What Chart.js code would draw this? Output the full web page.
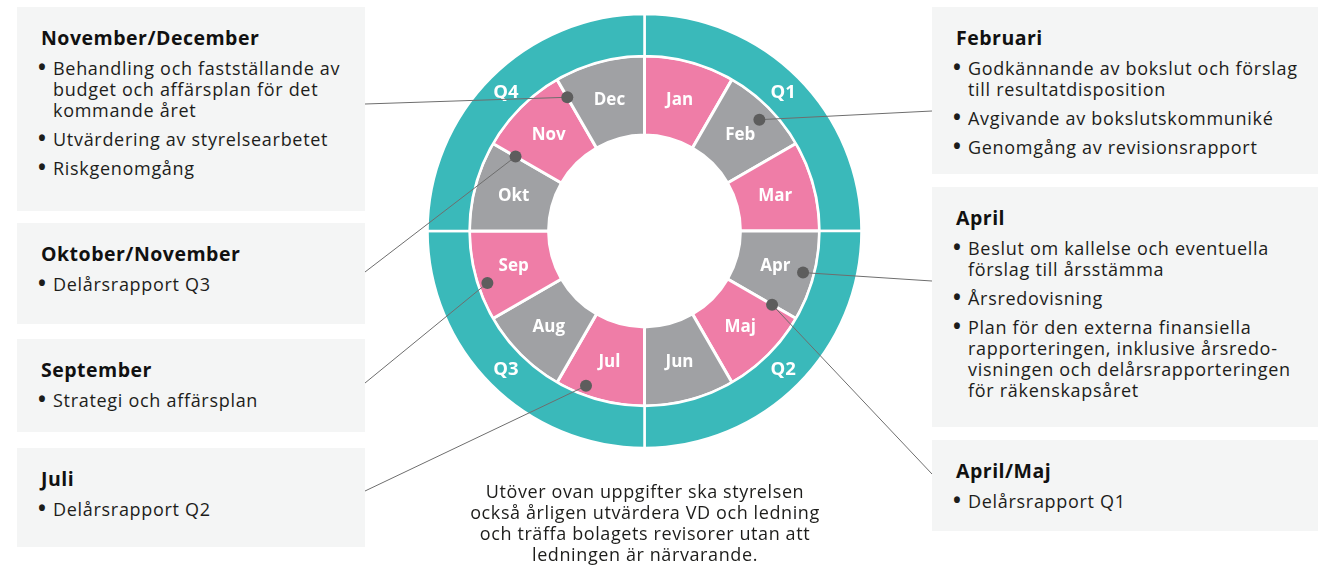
<!DOCTYPE html>
<html>
<head>
<meta charset="utf-8">
<script src="https://cdn.jsdelivr.net/npm/chart.js@4.4.1/dist/chart.umd.min.js"></script>
<style>
  html, body { margin: 0; padding: 0; background: #ffffff; }
  body { width: 1336px; height: 566px; position: relative; overflow: hidden; font-family: "Open Sans", "Noto Sans", sans-serif; color: #1d1d1b; }
  #c { position: absolute; left: 0; top: 0; }
  .box { position: absolute; background: #f4f5f5; box-sizing: border-box; padding: 19px 0 0 24px; z-index: 2; }
  .box h3 { margin: 0 0 8px 0; font-size: 19.5px; letter-spacing: 0.5px; line-height: 24px; font-weight: 700; color: #111; white-space: nowrap; }
  .box ul { list-style: none; margin: 0; padding: 0; }
  .box li { position: relative; padding-left: 12px; font-size: 18px; letter-spacing: 0.7px; line-height: 21px; margin-bottom: 8px; white-space: nowrap; }
  .box li .b { position: absolute; left: -3px; top: -1px; font-size: 21px; font-weight: 700; letter-spacing: 0; }
  #note { position: absolute; left: 395px; width: 500px; top: 481px; text-align: center; font-size: 18px; letter-spacing: 0.6px; line-height: 21px; white-space: nowrap; }
</style>
</head>
<body>
<canvas id="c" width="1336" height="566"></canvas>

<div class="box" style="left:17px;top:7px;width:348px;height:204px;">
  <h3>November/December</h3>
  <ul>
    <li><span class="b">•</span>Behandling och fastställande av<br>budget och affärsplan för det<br>kommande året</li>
    <li><span class="b">•</span>Utvärdering av styrelsearbetet</li>
    <li><span class="b">•</span>Riskgenomgång</li>
  </ul>
</div>
<div class="box" style="left:17px;top:223px;width:348px;height:101px;">
  <h3>Oktober/November</h3>
  <ul><li><span class="b">•</span>Delårsrapport Q3</li></ul>
</div>
<div class="box" style="left:17px;top:339px;width:348px;height:93px;">
  <h3>September</h3>
  <ul><li><span class="b">•</span>Strategi och affärsplan</li></ul>
</div>
<div class="box" style="left:17px;top:448px;width:348px;height:99px;">
  <h3>Juli</h3>
  <ul><li><span class="b">•</span>Delårsrapport Q2</li></ul>
</div>

<div class="box" style="left:932px;top:7px;width:386px;height:167px;">
  <h3>Februari</h3>
  <ul>
    <li><span class="b">•</span>Godkännande av bokslut och förslag<br>till resultatdisposition</li>
    <li><span class="b">•</span>Avgivande av bokslutskommuniké</li>
    <li><span class="b">•</span>Genomgång av revisionsrapport</li>
  </ul>
</div>
<div class="box" style="left:932px;top:187px;width:386px;height:240px;">
  <h3>April</h3>
  <ul>
    <li><span class="b">•</span>Beslut om kallelse och eventuella<br>förslag till årsstämma</li>
    <li><span class="b">•</span>Årsredovisning</li>
    <li><span class="b">•</span>Plan för den externa finansiella<br>rapporteringen, inklusive årsredo-<br>visningen och delårsrapporteringen<br>för räkenskapsåret</li>
  </ul>
</div>
<div class="box" style="left:932px;top:440px;width:386px;height:91px;">
  <h3>April/Maj</h3>
  <ul><li><span class="b">•</span>Delårsrapport Q1</li></ul>
</div>

<div id="note">Utöver ovan uppgifter ska styrelsen<br>också årligen utvärdera VD och ledning<br>och träffa bolagets revisorer utan att<br>ledningen är närvarande.</div>

<script>
// ---- data ----
const months = ['Jan','Feb','Mar','Apr','Maj','Jun','Jul','Aug','Sep','Okt','Nov','Dec'];
const monthValues = [1,1,1,1,1,1,1,1,1,1,1,1];
const quarters = ['Q1','Q2','Q3','Q4'];
const quarterValues = [3,3,3,3];

// ---- style ----
const TEAL = '#3ab9ba';
const PINK = '#ef7da7';
const GRAY = '#a0a1a4';
const monthColors = months.map((m, i) => i % 2 === 0 ? PINK : GRAY);

// callouts: month arc, fraction along arc, fraction across ring, box-edge anchor
const callouts = [
  { month: 'Dec', t: 0.0,  d: 0.74, to: [365, 104] },
  { month: 'Nov', t: 0.0,  d: 0.67, to: [365, 272] },
  { month: 'Sep', t: 0.39, d: 0.88, to: [365, 383] },
  { month: 'Jul', t: 0.69, d: 0.88, to: [365, 491] },
  { month: 'Feb', t: 0.53, d: 0.81, to: [932, 111] },
  { month: 'Apr', t: 0.49, d: 0.86, to: [932, 281] },
  { month: 'Maj', t: 0.0,  d: 0.65, to: [932, 474] }
];

const overlay = {
  id: 'overlay',
  afterDatasetsDraw(chart) {
    const ctx = chart.ctx;
    const qMeta = chart.getDatasetMeta(0);
    const mMeta = chart.getDatasetMeta(1);
    ctx.save();
    ctx.fillStyle = '#ffffff';
    ctx.textAlign = 'center';
    ctx.textBaseline = 'middle';
    // month labels
    ctx.font = '700 17px "Open Sans", "Noto Sans", sans-serif';
    mMeta.data.forEach((arc, i) => {
      const p = arc.getCenterPoint();
      ctx.fillText(months[i], p.x, p.y);
    });
    // quarter labels
    ctx.font = '700 18.5px "Open Sans", "Noto Sans", sans-serif';
    qMeta.data.forEach((arc, i) => {
      const p = arc.getCenterPoint();
      ctx.fillText(quarters[i], p.x, p.y);
    });
    // connectors
    const pts = callouts.map(c => {
      const arc = mMeta.data[months.indexOf(c.month)];
      const a = arc.startAngle + c.t * (arc.endAngle - arc.startAngle);
      const r = arc.innerRadius + c.d * (arc.outerRadius - arc.innerRadius);
      return { x: arc.x + Math.cos(a) * r, y: arc.y + Math.sin(a) * r, to: c.to };
    });
    ctx.strokeStyle = '#6e6e6e';
    ctx.lineWidth = 1;
    pts.forEach(p => {
      ctx.beginPath();
      ctx.moveTo(p.x, p.y);
      ctx.lineTo(p.to[0], p.to[1]);
      ctx.stroke();
    });
    ctx.fillStyle = '#5d5d5d';
    pts.forEach(p => {
      ctx.beginPath();
      ctx.arc(p.x, p.y, 6, 0, Math.PI * 2);
      ctx.fill();
    });
    ctx.restore();
  }
};

new Chart(document.getElementById('c'), {
  type: 'doughnut',
  data: {
    labels: months,
    datasets: [
      { data: quarterValues, backgroundColor: TEAL, borderColor: '#ffffff', borderWidth: 2.5, weight: 42 },
      { data: monthValues, backgroundColor: monthColors, borderColor: '#ffffff', borderWidth: 3, weight: 79 }
    ]
  },
  options: {
    responsive: false,
    animation: false,
    radius: 217,
    cutout: '44.2%',
    layout: { padding: { left: 427.5, right: 474.5, top: 14, bottom: 118 } },
    plugins: { legend: { display: false }, tooltip: { enabled: false } },
    events: []
  },
  plugins: [overlay]
});
</script>
</body>
</html>
